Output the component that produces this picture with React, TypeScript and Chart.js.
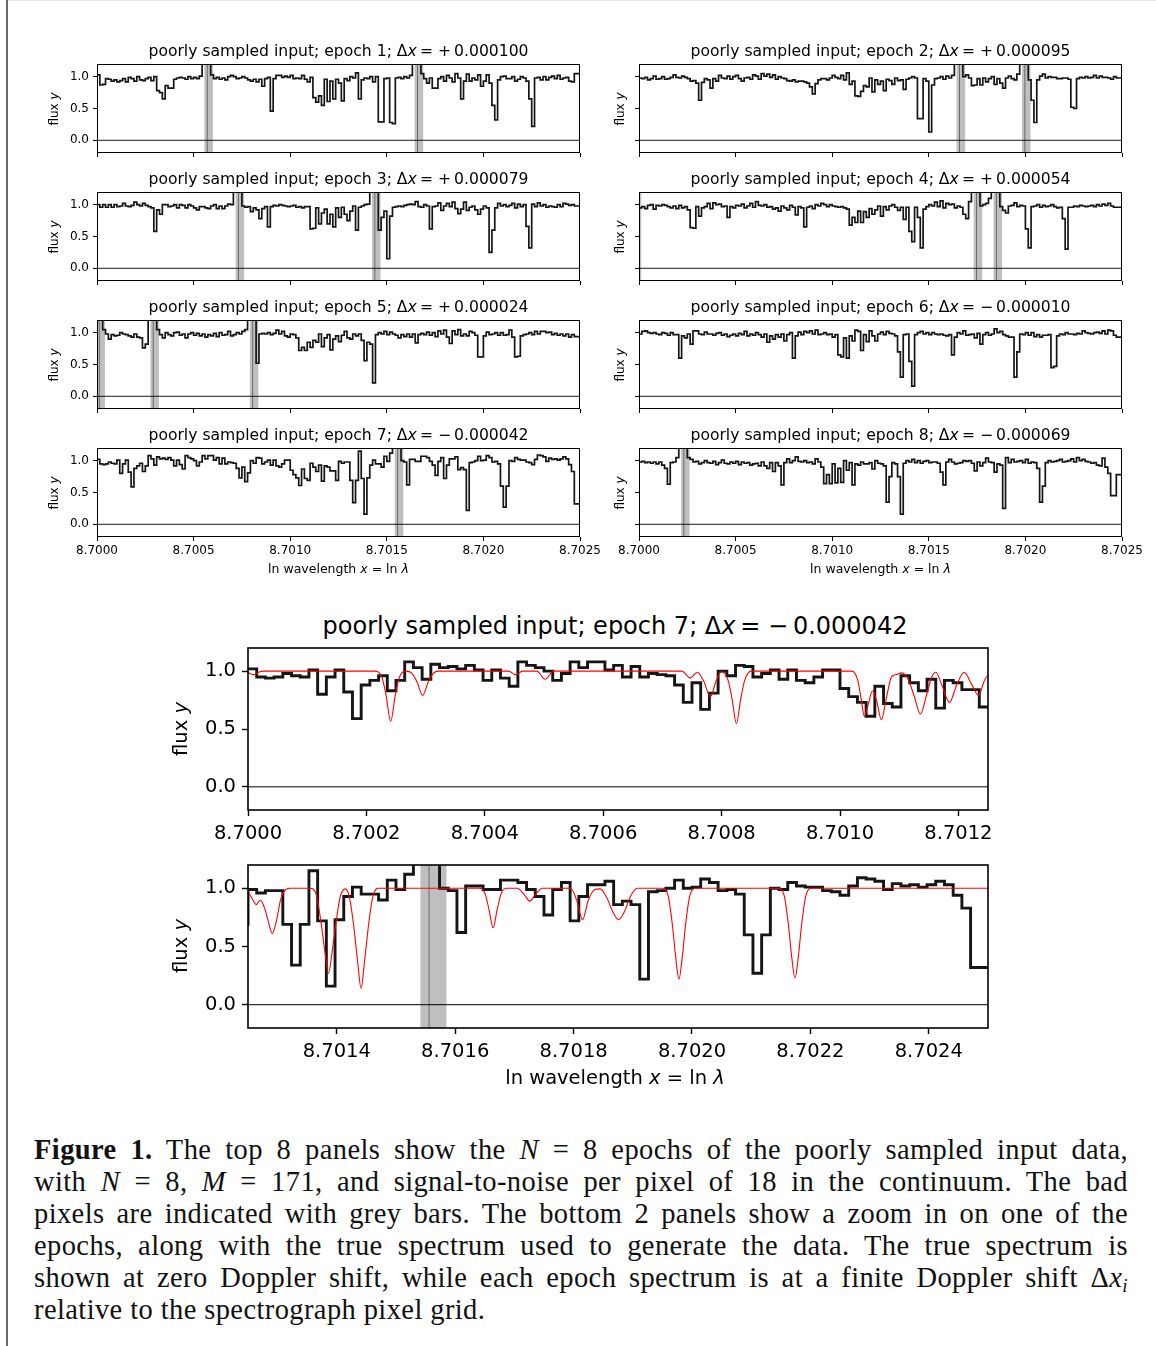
import React, { useEffect, useRef } from "react";
import { Chart, registerables } from "chart.js";

Chart.register(...registerables);
Chart.defaults.font.family = "'DejaVu Sans', sans-serif";

// ---------------- data ----------------
const X_MIN = 8.7;
const X_MAX = 8.7025;
const N_PIX = 171;
const PIX_DX = (X_MAX - X_MIN) / (N_PIX - 1);

const epochNumbers = [1, 2, 3, 4, 5, 6, 7, 8];
const epochShiftSigns = ["+", "+", "+", "+", "+", "\u2212", "\u2212", "\u2212"];
const epochShiftValues = ["0.000100", "0.000095", "0.000079", "0.000054", "0.000024", "0.000010", "0.000042", "0.000069"];

const flux1 = [
  1.04, 1.03, 0.87, 0.88, 0.97, 0.96, 0.93, 0.95, 0.92, 0.94,
  0.97, 0.92, 0.99, 0.97, 0.93, 1.00, 0.95, 0.94, 0.97, 0.99,
  0.94, 1.00, 0.78, 0.75, 0.65, 0.86, 0.82, 0.82, 0.96, 0.98,
  0.99, 0.98, 0.96, 1.00, 0.97, 0.99, 0.97, 1.01, 1.5, 1.5,
  1.5, 1.03, 0.97, 0.99, 0.96, 0.98, 0.95, 1.00, 1.02, 1.00,
  0.97, 0.98, 1.00, 0.98, 0.95, 0.93, 0.96, 0.92, 0.96, 0.85,
  0.97, 0.99, 0.46, 0.97, 1.02, 1.02, 0.99, 1.01, 0.99, 1.02,
  0.97, 0.98, 0.97, 1.02, 0.96, 0.92, 0.99, 0.67, 0.60, 0.70,
  0.55, 0.96, 0.61, 0.93, 0.65, 0.96, 0.90, 0.62, 0.97, 0.94,
  1.00, 0.98, 1.06, 0.65, 0.95, 0.98, 0.97, 1.00, 0.92, 1.00,
  0.29, 0.29, 0.97, 0.98, 0.28, 0.26, 0.98, 0.99, 0.97, 1.00,
  0.98, 1.02, 1.5, 1.5, 1.5, 1.05, 0.97, 0.90, 0.98, 0.82,
  0.82, 0.97, 1.00, 0.93, 1.02, 0.98, 0.92, 1.05, 0.98, 0.65,
  0.93, 1.04, 0.93, 0.98, 0.95, 1.03, 0.85, 0.93, 1.03, 0.90,
  0.55, 0.32, 0.95, 1.00, 1.01, 0.97, 0.97, 1.00, 0.93, 0.96,
  1.00, 0.98, 0.93, 0.65, 0.22, 0.98, 0.99, 0.95, 1.00, 0.95,
  0.99, 1.01, 0.97, 1.02, 0.96, 0.98, 0.99, 0.93, 0.92, 1.05, 1.05,
];
const flux2 = [
  1.00, 0.98, 0.97, 0.99, 0.95, 0.97, 1.01, 0.96, 0.97, 1.00,
  0.96, 0.97, 0.99, 1.03, 0.99, 0.98, 1.01, 0.99, 0.97, 0.93,
  0.94, 0.90, 0.63, 0.91, 0.97, 0.95, 0.82, 0.97, 0.93, 1.02,
  0.98, 0.97, 1.01, 0.96, 1.00, 1.02, 0.97, 0.93, 0.98, 0.99,
  0.96, 1.03, 1.01, 0.96, 1.05, 1.01, 1.04, 0.99, 1.03, 0.96,
  1.00, 0.98, 0.97, 0.94, 0.93, 0.95, 0.92, 0.93, 0.93, 0.92,
  0.90, 0.84, 0.73, 0.89, 0.95, 0.97, 0.97, 0.95, 0.98, 1.02,
  0.99, 0.97, 1.02, 0.95, 1.06, 0.88, 0.93, 0.70, 0.69, 0.77,
  0.86, 0.84, 0.98, 0.76, 0.95, 0.88, 0.93, 0.78, 0.96, 0.94,
  0.88, 0.98, 0.94, 0.95, 0.80, 0.96, 0.98, 1.00, 0.98, 0.34,
  0.34, 0.97, 0.93, 0.13, 0.87, 0.97, 0.98, 1.00, 0.96, 1.01,
  0.98, 1.02, 1.5, 1.5, 1.5, 1.00, 1.03, 0.98, 0.86, 0.87,
  0.97, 0.87, 0.98, 0.92, 0.97, 1.00, 0.88, 0.97, 0.90, 0.82,
  0.98, 1.01, 0.97, 0.95, 1.04, 1.5, 1.5, 1.5, 0.95, 0.63,
  0.28, 0.95, 1.01, 1.04, 0.98, 1.00, 0.99, 0.99, 0.97, 0.97,
  0.98, 0.98, 0.96, 0.52, 0.50, 0.97, 0.99, 0.98, 1.00, 0.98,
  0.99, 1.02, 0.98, 1.01, 0.99, 0.99, 0.98, 0.96, 1.00, 0.98, 0.98,
];
const flux3 = [
  0.98, 1.00, 0.96, 1.00, 0.96, 1.00, 0.96, 1.00, 0.97, 0.98,
  1.02, 0.98, 0.97, 0.99, 1.04, 1.00, 0.98, 1.02, 0.99, 0.97,
  0.95, 0.58, 0.92, 0.85, 1.00, 1.00, 0.97, 0.98, 1.00, 0.95,
  1.00, 0.99, 0.95, 1.00, 0.98, 0.95, 0.92, 0.97, 0.97, 0.95,
  0.94, 0.98, 1.00, 0.94, 0.98, 0.94, 0.98, 1.01, 1.00, 1.5,
  1.5, 1.5, 0.98, 0.96, 0.97, 0.89, 0.95, 0.92, 0.78, 0.94,
  0.97, 0.65, 0.97, 0.99, 0.98, 1.00, 0.99, 0.98, 0.97, 0.98,
  0.99, 0.96, 0.97, 0.95, 0.97, 0.97, 0.62, 0.63, 0.95, 0.70,
  0.87, 0.93, 0.70, 0.85, 0.65, 0.95, 0.80, 0.96, 0.85, 0.75,
  0.90, 0.98, 0.60, 0.96, 0.98, 1.00, 1.01, 1.5, 1.5, 1.5,
  0.60, 0.80, 0.90, 0.15, 0.82, 0.96, 0.97, 0.98, 0.97, 0.99,
  1.00, 1.01, 1.00, 1.05, 0.97, 0.96, 1.00, 0.98, 0.62, 0.97,
  0.98, 1.03, 0.91, 0.98, 1.02, 0.97, 1.04, 0.94, 0.86, 0.93,
  1.04, 0.91, 0.96, 0.98, 0.92, 0.85, 0.93, 0.98, 0.95, 0.25,
  0.60, 0.95, 1.02, 0.98, 1.00, 0.97, 0.99, 1.02, 0.95, 1.01,
  0.97, 1.00, 0.66, 0.32, 1.01, 0.97, 1.03, 0.98, 1.00, 0.96,
  0.98, 0.97, 0.96, 1.00, 0.97, 1.02, 1.01, 0.99, 1.00, 0.98, 0.98,
];
const flux4 = [
  1.5, 0.95, 0.97, 0.94, 0.99, 1.00, 0.93, 0.99, 0.98, 1.00,
  0.99, 0.97, 0.95, 0.98, 0.94, 0.99, 0.95, 0.97, 0.92, 0.64,
  0.63, 0.97, 0.82, 0.95, 0.97, 1.02, 0.94, 1.03, 1.00, 1.01,
  0.97, 0.98, 0.80, 0.97, 0.95, 0.99, 0.98, 1.01, 0.95, 0.98,
  1.02, 0.96, 1.05, 0.99, 0.98, 1.00, 0.96, 0.97, 0.93, 0.95,
  0.90, 0.98, 0.95, 0.92, 0.99, 0.96, 0.84, 0.97, 0.95, 0.65,
  0.96, 0.98, 0.94, 1.00, 0.98, 1.02, 1.00, 0.97, 1.00, 0.98,
  0.97, 0.96, 0.97, 0.95, 0.93, 0.68, 0.80, 0.72, 0.90, 0.72,
  0.89, 0.80, 0.94, 0.85, 0.92, 0.98, 0.82, 0.97, 0.92, 0.98,
  1.00, 0.96, 0.91, 0.96, 0.77, 0.96, 0.58, 0.42, 0.96, 0.80,
  0.32, 0.93, 0.97, 1.00, 0.98, 1.04, 0.97, 1.06, 0.95, 1.02,
  1.00, 1.01, 0.95, 0.98, 0.96, 0.85, 0.78, 1.05, 1.5, 1.5,
  1.5, 0.98, 1.00, 1.02, 1.10, 1.5, 1.5, 1.5, 0.97, 0.91,
  0.87, 0.98, 0.99, 1.03, 0.97, 0.99, 0.98, 0.62, 0.32, 0.97,
  0.98, 1.00, 0.96, 0.99, 0.97, 0.98, 1.00, 0.97, 0.95, 0.96,
  0.78, 0.30, 0.96, 0.96, 0.98, 0.97, 0.99, 0.98, 0.97, 0.98,
  0.99, 0.97, 1.00, 0.98, 1.01, 0.99, 1.02, 0.98, 0.96, 0.96, 0.96,
];
const flux5 = [
  1.5, 1.5, 1.5, 1.05, 0.98, 0.90, 0.97, 0.95, 0.96, 1.00,
  0.98, 0.97, 0.95, 0.93, 0.98, 0.93, 0.92, 0.76, 0.82, 1.5,
  1.5, 1.5, 1.05, 0.97, 0.92, 1.00, 0.97, 0.95, 1.00, 1.01,
  0.96, 0.98, 0.92, 0.98, 1.00, 0.96, 0.99, 0.95, 0.98, 0.93,
  0.97, 0.95, 0.99, 0.94, 1.00, 0.96, 0.97, 1.02, 0.95, 0.97,
  1.00, 0.98, 1.02, 1.05, 1.5, 1.5, 1.5, 0.52, 0.98, 0.99,
  0.98, 1.00, 0.97, 0.99, 1.04, 0.98, 1.02, 0.95, 0.93, 0.98,
  0.97, 0.92, 0.72, 0.77, 0.72, 0.85, 0.77, 0.88, 0.85, 0.98,
  0.78, 0.92, 0.97, 0.73, 0.90, 0.95, 0.86, 0.96, 1.02, 0.92,
  0.90, 0.98, 0.95, 0.98, 0.88, 0.56, 0.85, 0.82, 0.21, 0.97,
  1.00, 0.98, 1.02, 0.97, 1.01, 0.98, 0.96, 0.92, 0.97, 0.94,
  0.98, 0.93, 0.98, 0.84, 0.97, 0.99, 0.97, 1.01, 0.96, 1.00,
  0.94, 1.03, 0.98, 1.04, 0.93, 0.83, 1.03, 0.97, 1.05, 0.95,
  0.98, 0.95, 1.02, 1.00, 0.96, 0.62, 0.62, 0.95, 1.01, 0.97,
  0.98, 1.00, 0.96, 1.00, 0.96, 0.97, 1.04, 0.93, 0.62, 0.63,
  0.95, 0.97, 0.98, 1.00, 0.97, 1.02, 0.98, 1.02, 1.02, 1.00,
  1.01, 0.97, 0.99, 0.96, 0.98, 0.95, 0.98, 0.93, 0.97, 0.94, 0.94,
];
const flux6 = [
  0.99, 0.98, 1.02, 1.03, 1.00, 0.99, 1.00, 0.98, 0.97, 1.00,
  0.99, 0.96, 1.00, 0.97, 0.97, 0.60, 0.95, 0.92, 0.98, 0.82,
  1.03, 1.03, 0.98, 0.97, 1.01, 0.98, 0.98, 0.96, 0.99, 1.00,
  0.96, 0.98, 0.94, 0.96, 0.98, 0.95, 0.99, 0.97, 1.02, 0.95,
  0.98, 0.96, 1.00, 0.97, 0.93, 0.98, 0.85, 0.95, 0.90, 0.97,
  0.93, 0.98, 0.87, 0.97, 1.00, 0.60, 0.95, 1.01, 0.97, 1.02,
  1.00, 1.03, 0.98, 1.04, 0.97, 0.98, 1.00, 0.97, 0.98, 0.93,
  0.97, 0.65, 0.62, 0.92, 0.60, 0.95, 0.87, 1.04, 1.02, 0.72,
  0.97, 0.86, 1.03, 0.95, 0.87, 0.98, 1.01, 0.97, 1.02, 0.99,
  0.98, 0.95, 0.70, 0.30, 0.97, 0.98, 0.55, 0.16, 0.97, 1.00,
  1.02, 0.98, 1.00, 0.97, 1.00, 0.98, 0.97, 0.98, 0.96, 0.95,
  0.97, 0.65, 0.93, 1.00, 0.98, 1.03, 0.96, 0.97, 0.98, 0.92,
  0.99, 0.82, 0.97, 1.00, 0.96, 0.98, 1.06, 1.00, 1.02, 0.97,
  0.95, 0.93, 0.93, 0.30, 0.70, 0.98, 0.97, 1.00, 0.96, 1.00,
  0.94, 0.97, 0.93, 0.96, 0.96, 0.97, 0.45, 0.47, 0.95, 0.98,
  0.97, 1.00, 0.98, 0.98, 0.97, 0.99, 0.98, 1.03, 1.00, 0.99,
  0.98, 1.00, 1.01, 0.99, 1.03, 0.98, 1.04, 1.03, 0.96, 0.93, 0.93,
];
const flux7 = [
  1.03, 1.02, 0.95, 0.94, 0.95, 0.98, 0.96, 0.95, 1.01, 0.80,
  0.95, 1.01, 0.82, 0.59, 0.88, 0.92, 0.96, 0.83, 0.92, 1.08,
  1.03, 0.93, 1.06, 1.03, 1.04, 1.02, 1.05, 1.01, 0.92, 1.01,
  0.94, 0.87, 1.08, 1.05, 1.03, 1.00, 0.92, 0.98, 1.08, 1.03,
  1.08, 1.08, 1.01, 1.05, 0.95, 1.04, 0.95, 0.98, 0.97, 0.96,
  0.88, 0.73, 0.90, 0.67, 0.81, 1.00, 0.96, 1.05, 1.04, 0.95,
  0.98, 1.01, 0.93, 1.01, 0.92, 0.90, 0.95, 1.01, 1.01, 0.85,
  0.78, 0.73, 0.61, 0.87, 0.72, 0.69, 0.96, 0.90, 0.83, 0.93,
  0.68, 0.92, 0.90, 0.84, 0.84, 0.69, 0.99, 0.96, 0.98, 0.98,
  0.69, 0.34, 0.69, 1.15, 0.72, 0.16, 0.73, 0.93, 1.01, 0.95,
  0.95, 0.90, 1.07, 0.99, 1.12, 1.5, 1.5, 1.5, 1.00, 0.98,
  0.62, 1.02, 1.02, 0.99, 0.99, 1.07, 1.07, 1.05, 0.99, 0.93,
  0.77, 0.99, 1.05, 0.72, 0.93, 1.03, 1.03, 1.06, 0.86, 0.89,
  0.86, 0.22, 0.97, 0.98, 1.00, 1.07, 1.00, 1.01, 1.08, 1.05,
  0.98, 0.99, 0.95, 0.60, 0.27, 0.60, 1.00, 0.99, 1.05, 1.02,
  1.01, 1.01, 0.98, 0.97, 0.94, 1.02, 1.09, 1.08, 1.06, 0.99,
  1.04, 1.02, 1.03, 1.01, 1.03, 1.06, 1.03, 0.94, 0.83, 0.32, 0.32,
];
const flux8 = [
  1.03, 0.98, 0.99, 0.97, 0.98, 0.96, 0.98, 0.95, 0.98, 0.93,
  0.88, 0.63, 0.97, 0.98, 1.05, 1.5, 1.5, 1.5, 1.05, 1.02,
  0.98, 0.99, 0.95, 0.97, 1.00, 0.97, 0.96, 0.99, 0.94, 0.97,
  1.01, 0.96, 0.95, 0.98, 0.96, 0.99, 0.94, 0.98, 0.96, 0.97,
  0.93, 0.95, 0.96, 0.92, 0.98, 0.92, 0.88, 0.97, 0.83, 0.97,
  0.92, 0.62, 0.97, 1.03, 0.97, 1.00, 1.06, 0.99, 0.98, 1.00,
  0.97, 0.98, 0.95, 1.03, 0.98, 0.90, 0.64, 0.78, 0.64, 0.95,
  0.65, 0.88, 0.66, 1.00, 0.85, 0.97, 0.62, 0.95, 0.93, 0.98,
  0.95, 0.95, 0.97, 0.87, 1.00, 0.96, 0.95, 0.92, 0.35, 0.75,
  0.97, 0.95, 0.75, 0.16, 0.96, 1.00, 0.98, 1.02, 0.97, 1.00,
  0.96, 0.99, 1.00, 0.97, 0.98, 0.98, 0.96, 0.82, 0.62, 0.98,
  1.02, 0.98, 0.95, 0.96, 0.97, 1.00, 0.99, 1.00, 0.96, 0.84,
  0.98, 0.92, 0.97, 1.04, 0.98, 0.97, 0.82, 0.95, 0.93, 0.25,
  1.05, 0.97, 1.02, 0.98, 0.99, 1.00, 0.97, 1.02, 0.96, 0.98,
  0.97, 0.88, 0.35, 0.60, 0.97, 1.00, 0.98, 0.99, 1.00, 1.02,
  0.98, 0.99, 1.00, 1.03, 0.98, 1.05, 1.00, 1.02, 0.99, 0.98,
  0.96, 0.97, 0.93, 0.92, 1.04, 0.90, 0.80, 0.45, 0.45, 0.78, 0.78,
];
const epochFlux = [flux1, flux2, flux3, flux4, flux5, flux6, flux7, flux8];

// bad pixels: first pixel index and number of pixels of each flagged run
const badStart = [[38, 112], [112, 135], [49, 97], [-2, 118, 125], [0, 19, 54], [], [105], [15]];
const badCount = [[3, 3], [3, 3], [3, 3], [3, 3, 3], [3, 3, 3], [], [3], [3]];

// true spectrum (x offset from 8.7 in units of 1e-6, flux)
const truthOffsetMicro = [
  0, 5, 11, 18, 26,
  215, 226, 233, 241, 249, 256, 266,
  277, 286, 295, 304, 313, 322,
  440, 452, 464, 488, 502, 516,
  733, 747, 759, 770, 781, 791, 800, 811, 818, 825, 832, 839, 850,
  1020, 1030, 1036, 1041, 1048, 1055, 1062, 1070, 1078, 1087, 1095, 1105, 1115, 1125, 1136, 1146, 1155, 1162,
  1172, 1185, 1197, 1210, 1222, 1234, 1244, 1250, 1256, 1264, 1271, 1278, 1284, 1291, 1298, 1305, 1314, 1322,
  1355, 1365, 1373, 1380, 1386, 1392, 1399, 1406, 1414,
  1421, 1428, 1435, 1441, 1447, 1454, 1461, 1471,
  1640, 1650, 1657, 1664, 1671, 1678, 1688,
  1705, 1716, 1726, 1736, 1747,
  1795, 1805, 1815, 1825, 1836, 1845, 1856, 1866, 1876, 1886, 1896, 1908,
  1950, 1960, 1967, 1972, 1978, 1984, 1989, 1996, 2006,
  2146, 2156, 2163, 2168, 2174, 2180, 2185, 2192, 2202,
  2500,
];
const truthFlux = [
  0.99, 0.975, 0.97, 0.99, 1.0,
  1.0, 0.95, 0.8, 0.565, 0.8, 0.95, 1.0,
  0.98, 0.9, 0.79, 0.9, 0.98, 1.0,
  1.0, 0.97, 1.0, 1.0, 0.93, 1.0,
  1.0, 0.94, 0.99, 0.91, 0.78, 0.92, 0.995, 0.92, 0.75, 0.545, 0.75, 0.92, 1.0,
  1.0, 0.92, 0.75, 0.61, 0.72, 0.83, 0.74, 0.58, 0.76, 0.95, 0.97, 0.985, 0.93, 0.79, 0.63, 0.79, 0.95, 0.99,
  0.88, 0.73, 0.88, 0.99, 0.89, 0.79, 0.92, 0.96, 0.92, 0.86, 0.9, 0.83, 0.72, 0.61, 0.72, 0.9, 0.99, 1.0,
  1.0, 0.95, 0.72, 0.45, 0.27, 0.45, 0.72, 0.93, 0.995,
  0.93, 0.7, 0.38, 0.14, 0.38, 0.7, 0.93, 1.0,
  1.0, 0.96, 0.82, 0.66, 0.82, 0.96, 1.0,
  1.0, 0.95, 0.89, 0.95, 1.0,
  1.0, 0.9, 0.73, 0.9, 0.99, 0.995, 0.92, 0.8, 0.73, 0.8, 0.93, 1.0,
  1.0, 0.93, 0.68, 0.43, 0.22, 0.43, 0.68, 0.93, 1.0,
  1.0, 0.93, 0.68, 0.43, 0.23, 0.43, 0.68, 0.93, 1.0,
  1.0,
];

const smallXTicks = [8.7, 8.7005, 8.701, 8.7015, 8.702, 8.7025];
const zoomTopXTicks = [8.7, 8.7002, 8.7004, 8.7006, 8.7008, 8.701, 8.7012];
const zoomBottomXTicks = [8.7014, 8.7016, 8.7018, 8.702, 8.7022, 8.7024];
const yTicks = [0, 0.5, 1.0];
const Y_MIN = -0.2;
const Y_MAX = 1.2;
const ZOOM_SPLIT = 8.70125;

// ---------------- drawing ----------------
type PanelProps = {
  left: number; top: number; width: number; height: number;
  xMin: number; xMax: number; xTicks: number[];
  showXLabels: boolean; showYLabels: boolean;
  flux: number[]; bStart: number[]; bCount: number[];
  withTruth: boolean; big: boolean;
};

function Panel(p: PanelProps) {
  const ref = useRef<HTMLCanvasElement>(null);
  const m = p.big ? { l: 90, r: 40, t: 6, b: 48 } : { l: 60, r: 30, t: 6, b: 30 };
  const W = p.width + m.l + m.r;
  const H = p.height + m.t + m.b;
  useEffect(() => {
    if (!ref.current) return;
    const st = p.big
      ? { lw: 2.9, zw: 1.0, fw: 1.6, tick: 19.5, tl: 6, xpad: 6, ypad: 6, tw: 1.4 }
      : { lw: 1.7, zw: 0.9, fw: 1.0, tick: 12, tl: 4, xpad: 3, ypad: 4, tw: 1 };
    const datasets: any[] = [];
    if (p.withTruth) {
      datasets.push({
        data: truthOffsetMicro.map((o, i) => ({ x: X_MIN + o * 1e-6, y: truthFlux[i] })),
        borderColor: "#ff0000", borderWidth: 1.1, pointRadius: 0,
        cubicInterpolationMode: "monotone", clip: 0,
      });
    }
    datasets.push({
      data: p.flux.map((y, i) => ({ x: X_MIN + i * PIX_DX, y })),
      stepped: "after", borderColor: "#151515", borderWidth: st.lw, pointRadius: 0, clip: 0,
    });
    datasets.push({
      data: [{ x: p.xMin, y: 0 }, { x: p.xMax, y: 0 }],
      borderColor: "#000", borderWidth: st.zw, pointRadius: 0, clip: 0,
    });
    const badPlugin = {
      id: "badpix",
      beforeDatasetsDraw(chart: any) {
        const { ctx, chartArea: a, scales } = chart;
        const xs = scales.x;
        ctx.save();
        ctx.beginPath();
        ctx.rect(a.left, a.top, a.right - a.left, a.bottom - a.top);
        ctx.clip();
        p.bStart.forEach((s, j) => {
          const x0 = xs.getPixelForValue(X_MIN + (s - 0.2) * PIX_DX);
          const x1 = xs.getPixelForValue(X_MIN + (s + p.bCount[j] - 0.2) * PIX_DX);
          ctx.fillStyle = "rgba(0,0,0,0.25)";
          ctx.fillRect(x0, a.top, x1 - x0, a.bottom - a.top);
          const xm = xs.getPixelForValue(X_MIN + (s + 0.8) * PIX_DX);
          ctx.strokeStyle = "rgba(0,0,0,0.45)";
          ctx.lineWidth = 1;
          ctx.beginPath();
          ctx.moveTo(xm, a.top);
          ctx.lineTo(xm, a.bottom);
          ctx.stroke();
        });
        ctx.restore();
      },
    };
    const framePlugin = {
      id: "frame",
      afterDatasetsDraw(chart: any) {
        const { ctx, chartArea: a } = chart;
        ctx.save();
        ctx.strokeStyle = "#000";
        ctx.lineWidth = st.fw;
        const o = st.fw <= 1 ? 0.5 : 0;
        ctx.strokeRect(a.left + o, a.top + o, a.right - a.left - 2 * o, a.bottom - a.top - 2 * o);
        ctx.restore();
      },
    };
    const chart = new Chart(ref.current, {
      type: "line",
      data: { datasets },
      plugins: [badPlugin, framePlugin],
      options: {
        animation: false,
        responsive: false,
        maintainAspectRatio: false,
        events: [],
        layout: { padding: { left: 0, right: m.r, top: m.t, bottom: 0 } },
        plugins: { legend: { display: false }, tooltip: { enabled: false }, title: { display: false } },
        scales: {
          x: {
            type: "linear", min: p.xMin, max: p.xMax,
            afterBuildTicks: (s: any) => { s.ticks = p.xTicks.map((v) => ({ value: v })); },
            afterFit: (s: any) => { s.height = m.b; s.paddingLeft = 0; s.paddingRight = 0; },
            ticks: {
              display: p.showXLabels, autoSkip: false, maxRotation: 0, minRotation: 0,
              padding: st.xpad, color: "#000", font: { size: st.tick },
              callback: (v: any) => Number(v).toFixed(4),
            },
            grid: { display: true, drawOnChartArea: false, drawTicks: true, tickLength: st.tl, tickWidth: st.tw, tickColor: "#000", color: "#000" },
            border: { display: false },
          },
          y: {
            type: "linear", min: Y_MIN, max: Y_MAX,
            afterBuildTicks: (s: any) => { s.ticks = yTicks.map((v) => ({ value: v })); },
            afterFit: (s: any) => { s.width = m.l; s.paddingTop = 0; s.paddingBottom = 0; },
            ticks: {
              display: p.showYLabels, padding: st.ypad, color: "#000", font: { size: st.tick },
              callback: (v: any) => Number(v).toFixed(1),
            },
            grid: { display: true, drawOnChartArea: false, drawTicks: true, tickLength: st.tl, tickWidth: st.tw, tickColor: "#000", color: "#000" },
            border: { display: false },
          },
        },
      } as any,
    });
    return () => chart.destroy();
  }, []);
  return (
    <canvas
      ref={ref}
      width={W}
      height={H}
      style={{ position: "absolute", left: p.left - m.l, top: p.top - m.t, width: W, height: H }}
    />
  );
}

const sans = "'DejaVu Sans', sans-serif";

function Label(props: { cx: number; cy: number; size: number; rotate?: boolean; children: React.ReactNode }) {
  return (
    <div
      style={{
        position: "absolute", left: props.cx, top: props.cy,
        transform: `translate(-50%, -50%)${props.rotate ? " rotate(-90deg)" : ""}`,
        whiteSpace: "nowrap", fontFamily: sans, fontSize: props.size, color: "#000", lineHeight: 1,
      }}
    >
      {props.children}
    </div>
  );
}

function TitleText(props: { i: number }) {
  const i = props.i;
  return (
    <>
      poorly sampled input; epoch {epochNumbers[i]}; Δ<i>x</i>{"\u2009= "}{epochShiftSigns[i]}{"\u2009"}{epochShiftValues[i]}
    </>
  );
}

const SMALL_W = 483;
const SMALL_H = 89;
const colLeft = [97, 639];
const rowTop = [64, 192, 320, 448];
const lineStyle: React.CSSProperties = { textAlign: "justify", textAlignLast: "justify" };

export default function App() {
  const smalls = epochNumbers.map((_, i) => {
    const col = i % 2;
    const row = Math.floor(i / 2);
    return { i, col, row, left: colLeft[col], top: rowTop[row] };
  });
  const zoomLeft = 248;
  const zoomW = 740;
  return (
    <div style={{ position: "absolute", left: 0, top: 0, width: 1156, height: 1346, overflow: "hidden", background: "#fff" }}>
      <div style={{ position: "absolute", left: 6, top: 0, width: 2, height: 1346, background: "#6a6a6a" }} />
      <div style={{ position: "absolute", left: 8, top: 0, width: 1148, height: 1, background: "#e4e4e4" }} />
      {smalls.map((s) => (
        <Panel
          key={s.i}
          left={s.left} top={s.top} width={SMALL_W} height={SMALL_H}
          xMin={X_MIN} xMax={X_MAX} xTicks={smallXTicks}
          showXLabels={s.row === 3} showYLabels={s.col === 0}
          flux={epochFlux[s.i]} bStart={badStart[s.i]} bCount={badCount[s.i]}
          withTruth={false} big={false}
        />
      ))}
      <Panel
        left={zoomLeft} top={648} width={zoomW} height={162}
        xMin={X_MIN} xMax={ZOOM_SPLIT} xTicks={zoomTopXTicks}
        showXLabels={true} showYLabels={true}
        flux={flux7} bStart={badStart[6]} bCount={badCount[6]}
        withTruth={true} big={true}
      />
      <Panel
        left={zoomLeft} top={865} width={zoomW} height={163}
        xMin={ZOOM_SPLIT} xMax={X_MAX} xTicks={zoomBottomXTicks}
        showXLabels={true} showYLabels={true}
        flux={flux7} bStart={badStart[6]} bCount={badCount[6]}
        withTruth={true} big={true}
      />
      {smalls.map((s) => (
        <React.Fragment key={"t" + s.i}>
          <Label cx={s.left + SMALL_W / 2} cy={s.top - 12.5} size={15.6}><TitleText i={s.i} /></Label>
          <Label cx={s.left - (s.col ? 19 : 43)} cy={s.top + SMALL_H / 2} size={12} rotate>flux <i>y</i></Label>
          {s.row === 3 ? (
            <Label cx={s.left + SMALL_W / 2} cy={569} size={12.5}>ln wavelength <i>x</i> = ln <i>λ</i></Label>
          ) : null}
        </React.Fragment>
      ))}
      <Label cx={zoomLeft + zoomW / 2 - 3} cy={626} size={24}><TitleText i={6} /></Label>
      <Label cx={181} cy={729} size={19.5} rotate>flux <i>y</i></Label>
      <Label cx={181} cy={946} size={19.5} rotate>flux <i>y</i></Label>
      <Label cx={zoomLeft + zoomW / 2 - 3} cy={1078} size={19.5}>ln wavelength <i>x</i> = ln <i>λ</i></Label>
      <div
        style={{
          position: "absolute", left: 34, top: 1134, width: 1094,
          fontFamily: "'Liberation Serif', serif", fontSize: 28.5, letterSpacing: "0.4px", lineHeight: "32px", color: "#111",
        }}
      >
        <div style={lineStyle}>
          <b>Figure 1.</b> The top 8 panels show the <i>N</i> = 8 epochs of the poorly sampled input data,
        </div>
        <div style={lineStyle}>
          with <i>N</i> = 8, <i>M</i> = 171, and signal-to-noise per pixel of 18 in the continuum. The bad
        </div>
        <div style={lineStyle}>
          pixels are indicated with grey bars. The bottom 2 panels show a zoom in on one of the
        </div>
        <div style={lineStyle}>
          epochs, along with the true spectrum used to generate the data. The true spectrum is
        </div>
        <div style={lineStyle}>
          shown at zero Doppler shift, while each epoch spectrum is at a finite Doppler shift Δ<i>x</i><sub style={{ fontSize: 19, verticalAlign: "-5px", lineHeight: 0 }}><i>i</i></sub>
        </div>
        <div style={{ textAlign: "left" }}>relative to the spectrograph pixel grid.</div>
      </div>
    </div>
  );
}
